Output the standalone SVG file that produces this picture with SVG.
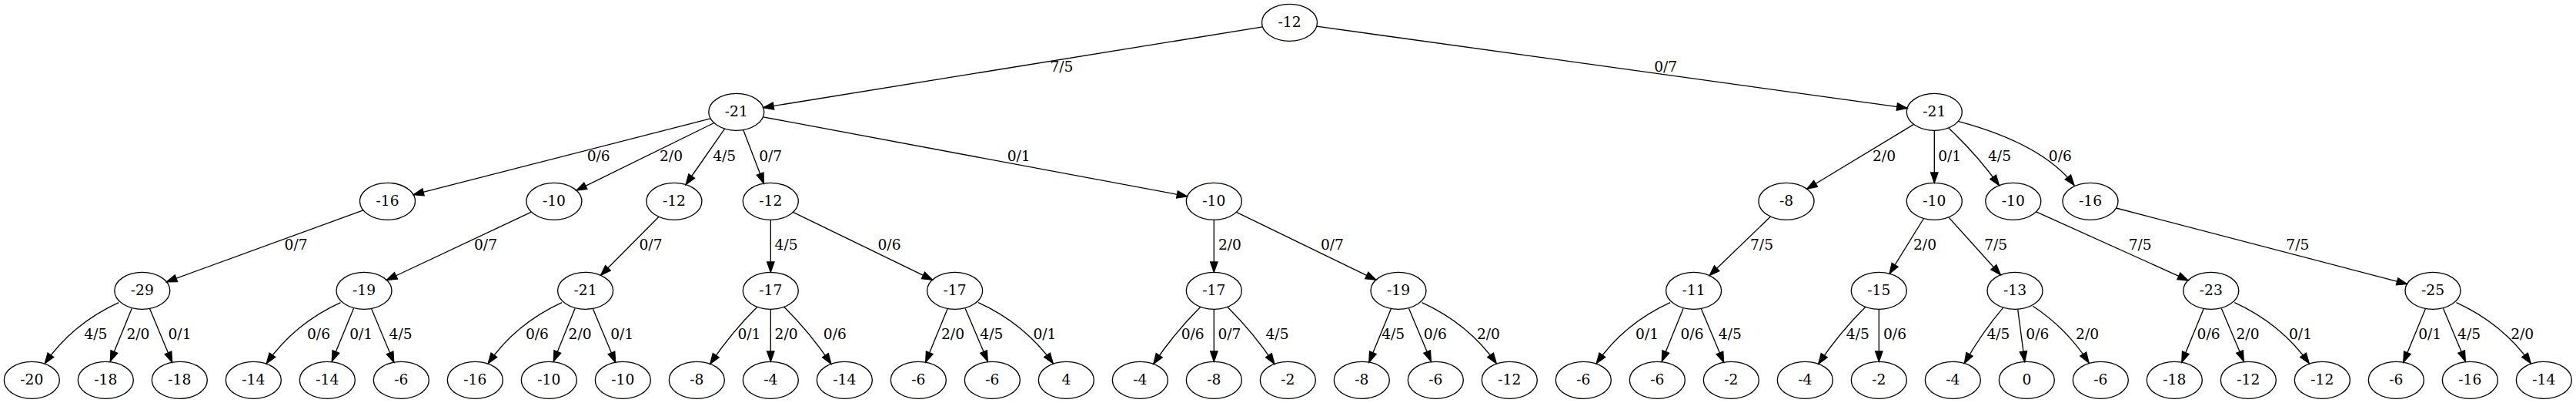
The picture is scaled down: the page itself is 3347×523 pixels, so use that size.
<svg xmlns="http://www.w3.org/2000/svg" width="3347" height="523" viewBox="0 0 3347 523">
<style>
.n ellipse{fill:none;stroke:#000;stroke-width:1.33}
text{font-family:"DejaVu Serif","Liberation Serif",serif;font-size:18.67px;text-anchor:middle;fill:#000}
.e path{fill:none;stroke:#000;stroke-width:1.33;marker-end:url(#ah)}
</style>
<defs>
<marker id="ah" markerUnits="userSpaceOnUse" markerWidth="16" markerHeight="12" viewBox="0 -6 16 12" refX="13.33" refY="0" orient="auto" overflow="visible"><path d="M0,-4.67 L13.33,0 L0,4.67 Z" fill="#000" stroke="#000" stroke-width="1.33"/></marker>
</defs>
<rect width="3347" height="523" fill="#fff"/>
<g id="connectors" class="e">
<path d="M1640.5,34.95 L991.8,139.65"/>
<path d="M1710.75,34.2 L2478.05,140.4"/>
<path d="M923.2,153.9 L537.1,252.7"/>
<path d="M927.8,159.5 L748.9,247.1"/>
<path d="M941.6,167.1 L891.1,239.5"/>
<path d="M965.7,168.55 L992.4,238.05"/>
<path d="M991.5,151.8 L1542.6,254.8"/>
<path d="M2486.6,161.4 L2347.7,245.2"/>
<path d="M2513.3,169.3 L2513.3,237.3"/>
<path d="M2531.6,166 Q2567.8,199.6 2597.5,240.6"/>
<path d="M2545,157.7 Q2654,187 2695,240.5"/>
<path d="M471.9,272.8 L216.4,365.8"/>
<path d="M690.5,275.1 L502.4,363.5"/>
<path d="M856,281.3 L780.5,357.3"/>
<path d="M1001.3,285.3 L1001.3,353.3"/>
<path d="M1030.4,275.4 L1211.5,363.2"/>
<path d="M1577.3,285.3 L1577.3,353.3"/>
<path d="M1606.45,275.4 L1787.85,363.2"/>
<path d="M2300.5,281 L2221.1,357.6"/>
<path d="M2499.5,283.5 L2455.1,355.1"/>
<path d="M2531.8,281.9 L2599.4,356.7"/>
<path d="M2645.6,274.8 L2843,363.8"/>
<path d="M2749.5,270 L3127.5,368.6"/>
<path d="M154.3,392.7 Q94.3,420 58.3,471.7"/>
<path d="M171.3,400.3 L143.3,468.8"/>
<path d="M194.5,400.4 L223.6,470.2"/>
<path d="M442.5,392.7 Q382.5,420 346.3,471.7"/>
<path d="M459.5,400.3 L431.3,468.8"/>
<path d="M482.6,400.4 L511.7,470.2"/>
<path d="M730.1,392.7 Q670.1,420 634.3,471.7"/>
<path d="M747.1,400.3 L719.3,468.8"/>
<path d="M770.3,400.4 L799.6,470.2"/>
<path d="M983.9,398.3 Q950.2,431.6 922.7,472.3"/>
<path d="M1001.3,401.3 L1001.3,469.3"/>
<path d="M1018.7,398.3 Q1052.4,431.6 1079.9,472.3"/>
<path d="M1231.2,400.5 L1202.7,470.1"/>
<path d="M1254.1,400.3 L1283.3,468.8"/>
<path d="M1271.1,392.7 Q1331.1,420 1368.3,471.7"/>
<path d="M1559.9,398.3 Q1526.2,431.6 1498.7,472.3"/>
<path d="M1577.3,401.3 L1577.3,469.3"/>
<path d="M1594.7,398.3 Q1628.4,431.6 1655.9,472.3"/>
<path d="M1807.5,400.5 L1778.8,470.1"/>
<path d="M1830.5,400.3 L1859.3,468.8"/>
<path d="M1847.5,392.7 Q1907.5,420 1944.3,471.7"/>
<path d="M2170.1,392.7 Q2110.1,420 2074.3,471.7"/>
<path d="M2187.1,400.3 L2159.3,468.8"/>
<path d="M2210.3,400.4 L2239.6,470.2"/>
<path d="M2423.9,398.3 Q2390.2,431.6 2362.7,472.3"/>
<path d="M2441.3,401.3 L2441.3,469.3"/>
<path d="M2602.8,399.1 Q2575.1,431.7 2552.4,471.5"/>
<path d="M2621.7,401.5 L2630.7,469.4"/>
<path d="M2641.3,397.3 Q2685,426 2714,470.7"/>
<path d="M2863.3,400.5 L2834.8,470.1"/>
<path d="M2886.3,400.3 L2915.3,468.8"/>
<path d="M2903.3,392.7 Q2963.3,420 3000.3,471.7"/>
<path d="M3151.5,400.5 L3122.8,470.1"/>
<path d="M3174.5,400.3 L3203.3,468.8"/>
<path d="M3191.5,392.7 Q3251.5,420 3288.3,471.7"/>
<g id="edge-labels">
<text x="1379.4" y="92.5">7/5</text>
<text x="2164.2" y="92.5">0/7</text>
<text x="777.7" y="208.5">0/6</text>
<text x="872" y="208.5">2/0</text>
<text x="941.2" y="208.5">4/5</text>
<text x="1001.2" y="208.5">0/7</text>
<text x="1323.7" y="208.5">0/1</text>
<text x="2448" y="208.5">2/0</text>
<text x="2533.2" y="208.5">0/1</text>
<text x="2598" y="208.5">4/5</text>
<text x="2676.8" y="208.5">0/6</text>
<text x="384.6" y="324">0/7</text>
<text x="631" y="324">0/7</text>
<text x="845.5" y="324">0/7</text>
<text x="1021.6" y="324">4/5</text>
<text x="1155.5" y="324">0/6</text>
<text x="1597.9" y="324">2/0</text>
<text x="1730.9" y="324">0/7</text>
<text x="2289" y="324">7/5</text>
<text x="2501" y="324">2/0</text>
<text x="2593.2" y="324">7/5</text>
<text x="2780.7" y="324">7/5</text>
<text x="2985.3" y="324">7/5</text>
<text x="124.3" y="440">4/5</text>
<text x="179.4" y="440">2/0</text>
<text x="233.5" y="440">0/1</text>
<text x="414" y="440">0/6</text>
<text x="469.2" y="440">0/1</text>
<text x="520.6" y="440">4/5</text>
<text x="697.9" y="440">0/6</text>
<text x="753.6" y="440">2/0</text>
<text x="808.2" y="440">0/1</text>
<text x="973.4" y="440">0/1</text>
<text x="1021.6" y="440">2/0</text>
<text x="1084.8" y="440">0/6</text>
<text x="1238" y="440">2/0</text>
<text x="1288.3" y="440">4/5</text>
<text x="1357.4" y="440">0/1</text>
<text x="1549.7" y="440">0/6</text>
<text x="1597.4" y="440">0/7</text>
<text x="1659.5" y="440">4/5</text>
<text x="1810.2" y="440">4/5</text>
<text x="1864.8" y="440">0/6</text>
<text x="1933.9" y="440">2/0</text>
<text x="2140.1" y="440">0/1</text>
<text x="2198.5" y="440">0/6</text>
<text x="2247.8" y="440">4/5</text>
<text x="2413.8" y="440">4/5</text>
<text x="2462" y="440">0/6</text>
<text x="2596.4" y="440">4/5</text>
<text x="2647.3" y="440">0/6</text>
<text x="2712.1" y="440">2/0</text>
<text x="2869.6" y="440">0/6</text>
<text x="2920.5" y="440">2/0</text>
<text x="2989" y="440">0/1</text>
<text x="3157.2" y="440">0/1</text>
<text x="3208.1" y="440">4/5</text>
<text x="3277.2" y="440">2/0</text>
</g>
</g>
<g id="n_root" class="n"><ellipse cx="1675.5" cy="29.3" rx="36" ry="24"/><text x="1675.5" y="34.9">-12</text></g>
<g id="n_l1a" class="n"><ellipse cx="956.8" cy="145.3" rx="36" ry="24"/><text x="956.8" y="150.9">-21</text></g>
<g id="n_l1b" class="n"><ellipse cx="2513.3" cy="145.3" rx="36" ry="24"/><text x="2513.3" y="150.9">-21</text></g>
<g id="n_a1" class="n"><ellipse cx="503.5" cy="261.3" rx="36" ry="24"/><text x="503.5" y="266.9">-16</text></g>
<g id="n_a2" class="n"><ellipse cx="719.9" cy="261.3" rx="36" ry="24"/><text x="719.9" y="266.9">-10</text></g>
<g id="n_a3" class="n"><ellipse cx="875.9" cy="261.3" rx="36" ry="24"/><text x="875.9" y="266.9">-12</text></g>
<g id="n_a4" class="n"><ellipse cx="1001.3" cy="261.3" rx="36" ry="24"/><text x="1001.3" y="266.9">-12</text></g>
<g id="n_a5" class="n"><ellipse cx="1577.3" cy="261.3" rx="36" ry="24"/><text x="1577.3" y="266.9">-10</text></g>
<g id="n_b1" class="n"><ellipse cx="2321" cy="261.3" rx="36" ry="24"/><text x="2321" y="266.9">-8</text></g>
<g id="n_b2" class="n"><ellipse cx="2513.3" cy="261.3" rx="36" ry="24"/><text x="2513.3" y="266.9">-10</text></g>
<g id="n_b3" class="n"><ellipse cx="2615.8" cy="261.3" rx="36" ry="24"/><text x="2615.8" y="266.9">-10</text></g>
<g id="n_b4" class="n"><ellipse cx="2716" cy="261.3" rx="36" ry="24"/><text x="2716" y="266.9">-16</text></g>
<g id="n_c1" class="n"><ellipse cx="184.8" cy="377.3" rx="36" ry="24"/><text x="184.8" y="382.9">-29</text></g>
<g id="n_c2" class="n"><ellipse cx="473" cy="377.3" rx="36" ry="24"/><text x="473" y="382.9">-19</text></g>
<g id="n_c3" class="n"><ellipse cx="760.6" cy="377.3" rx="36" ry="24"/><text x="760.6" y="382.9">-21</text></g>
<g id="n_c4" class="n"><ellipse cx="1001.3" cy="377.3" rx="36" ry="24"/><text x="1001.3" y="382.9">-17</text></g>
<g id="n_c5" class="n"><ellipse cx="1240.6" cy="377.3" rx="36" ry="24"/><text x="1240.6" y="382.9">-17</text></g>
<g id="n_c6" class="n"><ellipse cx="1577.3" cy="377.3" rx="36" ry="24"/><text x="1577.3" y="382.9">-17</text></g>
<g id="n_c7" class="n"><ellipse cx="1817" cy="377.3" rx="36" ry="24"/><text x="1817" y="382.9">-19</text></g>
<g id="n_c8" class="n"><ellipse cx="2200.6" cy="377.3" rx="36" ry="24"/><text x="2200.6" y="382.9">-11</text></g>
<g id="n_c9" class="n"><ellipse cx="2441.3" cy="377.3" rx="36" ry="24"/><text x="2441.3" y="382.9">-15</text></g>
<g id="n_c10" class="n"><ellipse cx="2618" cy="377.3" rx="36" ry="24"/><text x="2618" y="382.9">-13</text></g>
<g id="n_c11" class="n"><ellipse cx="2872.8" cy="377.3" rx="36" ry="24"/><text x="2872.8" y="382.9">-23</text></g>
<g id="n_c12" class="n"><ellipse cx="3161" cy="377.3" rx="36" ry="24"/><text x="3161" y="382.9">-25</text></g>
<g id="n_d0" class="n"><ellipse cx="41.33" cy="493.3" rx="36" ry="24"/><text x="41.33" y="498.9">-20</text></g>
<g id="n_d1" class="n"><ellipse cx="137.33" cy="493.3" rx="36" ry="24"/><text x="137.33" y="498.9">-18</text></g>
<g id="n_d2" class="n"><ellipse cx="233.33" cy="493.3" rx="36" ry="24"/><text x="233.33" y="498.9">-18</text></g>
<g id="n_d3" class="n"><ellipse cx="329.33" cy="493.3" rx="36" ry="24"/><text x="329.33" y="498.9">-14</text></g>
<g id="n_d4" class="n"><ellipse cx="425.33" cy="493.3" rx="36" ry="24"/><text x="425.33" y="498.9">-14</text></g>
<g id="n_d5" class="n"><ellipse cx="521.33" cy="493.3" rx="36" ry="24"/><text x="521.33" y="498.9">-6</text></g>
<g id="n_d6" class="n"><ellipse cx="617.33" cy="493.3" rx="36" ry="24"/><text x="617.33" y="498.9">-16</text></g>
<g id="n_d7" class="n"><ellipse cx="713.33" cy="493.3" rx="36" ry="24"/><text x="713.33" y="498.9">-10</text></g>
<g id="n_d8" class="n"><ellipse cx="809.33" cy="493.3" rx="36" ry="24"/><text x="809.33" y="498.9">-10</text></g>
<g id="n_d9" class="n"><ellipse cx="905.33" cy="493.3" rx="36" ry="24"/><text x="905.33" y="498.9">-8</text></g>
<g id="n_d10" class="n"><ellipse cx="1001.33" cy="493.3" rx="36" ry="24"/><text x="1001.33" y="498.9">-4</text></g>
<g id="n_d11" class="n"><ellipse cx="1097.33" cy="493.3" rx="36" ry="24"/><text x="1097.33" y="498.9">-14</text></g>
<g id="n_d12" class="n"><ellipse cx="1193.33" cy="493.3" rx="36" ry="24"/><text x="1193.33" y="498.9">-6</text></g>
<g id="n_d13" class="n"><ellipse cx="1289.33" cy="493.3" rx="36" ry="24"/><text x="1289.33" y="498.9">-6</text></g>
<g id="n_d14" class="n"><ellipse cx="1385.33" cy="493.3" rx="36" ry="24"/><text x="1385.33" y="498.9">4</text></g>
<g id="n_d15" class="n"><ellipse cx="1481.33" cy="493.3" rx="36" ry="24"/><text x="1481.33" y="498.9">-4</text></g>
<g id="n_d16" class="n"><ellipse cx="1577.33" cy="493.3" rx="36" ry="24"/><text x="1577.33" y="498.9">-8</text></g>
<g id="n_d17" class="n"><ellipse cx="1673.33" cy="493.3" rx="36" ry="24"/><text x="1673.33" y="498.9">-2</text></g>
<g id="n_d18" class="n"><ellipse cx="1769.33" cy="493.3" rx="36" ry="24"/><text x="1769.33" y="498.9">-8</text></g>
<g id="n_d19" class="n"><ellipse cx="1865.33" cy="493.3" rx="36" ry="24"/><text x="1865.33" y="498.9">-6</text></g>
<g id="n_d20" class="n"><ellipse cx="1961.33" cy="493.3" rx="36" ry="24"/><text x="1961.33" y="498.9">-12</text></g>
<g id="n_d21" class="n"><ellipse cx="2057.33" cy="493.3" rx="36" ry="24"/><text x="2057.33" y="498.9">-6</text></g>
<g id="n_d22" class="n"><ellipse cx="2153.33" cy="493.3" rx="36" ry="24"/><text x="2153.33" y="498.9">-6</text></g>
<g id="n_d23" class="n"><ellipse cx="2249.33" cy="493.3" rx="36" ry="24"/><text x="2249.33" y="498.9">-2</text></g>
<g id="n_d24" class="n"><ellipse cx="2345.33" cy="493.3" rx="36" ry="24"/><text x="2345.33" y="498.9">-4</text></g>
<g id="n_d25" class="n"><ellipse cx="2441.33" cy="493.3" rx="36" ry="24"/><text x="2441.33" y="498.9">-2</text></g>
<g id="n_d26" class="n"><ellipse cx="2537.33" cy="493.3" rx="36" ry="24"/><text x="2537.33" y="498.9">-4</text></g>
<g id="n_d27" class="n"><ellipse cx="2633.33" cy="493.3" rx="36" ry="24"/><text x="2633.33" y="498.9">0</text></g>
<g id="n_d28" class="n"><ellipse cx="2729.33" cy="493.3" rx="36" ry="24"/><text x="2729.33" y="498.9">-6</text></g>
<g id="n_d29" class="n"><ellipse cx="2825.33" cy="493.3" rx="36" ry="24"/><text x="2825.33" y="498.9">-18</text></g>
<g id="n_d30" class="n"><ellipse cx="2921.33" cy="493.3" rx="36" ry="24"/><text x="2921.33" y="498.9">-12</text></g>
<g id="n_d31" class="n"><ellipse cx="3017.33" cy="493.3" rx="36" ry="24"/><text x="3017.33" y="498.9">-12</text></g>
<g id="n_d32" class="n"><ellipse cx="3113.33" cy="493.3" rx="36" ry="24"/><text x="3113.33" y="498.9">-6</text></g>
<g id="n_d33" class="n"><ellipse cx="3209.33" cy="493.3" rx="36" ry="24"/><text x="3209.33" y="498.9">-16</text></g>
<g id="n_d34" class="n"><ellipse cx="3305.33" cy="493.3" rx="36" ry="24"/><text x="3305.33" y="498.9">-14</text></g>
</svg>
